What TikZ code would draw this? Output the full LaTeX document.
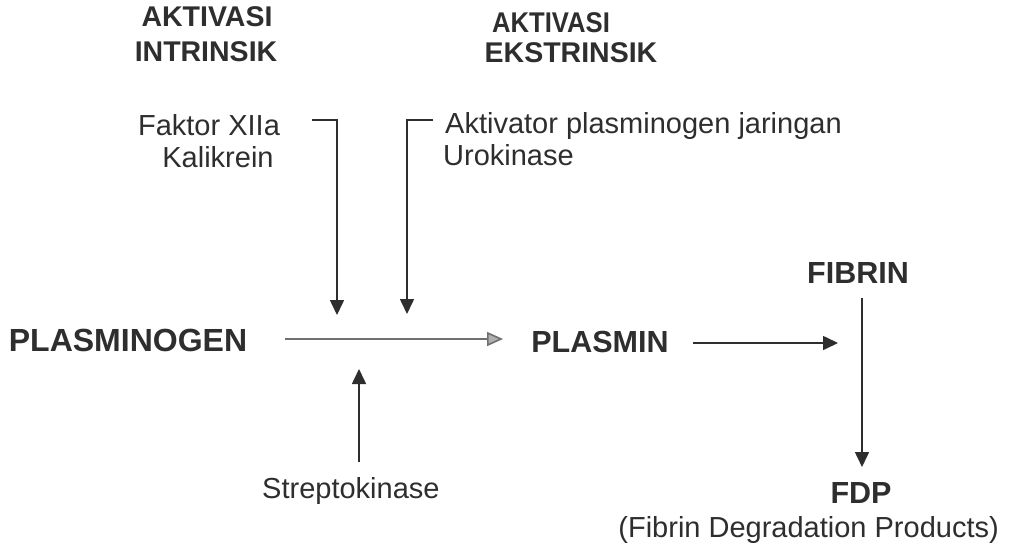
\documentclass[tikz,border=0pt]{standalone}
\usepackage{fontspec}
\setmainfont{Liberation Sans}
\usetikzlibrary{arrows.meta}
\definecolor{ink}{HTML}{2E2E2E}
\definecolor{inklight}{HTML}{707070}
\begin{document}
\begin{tikzpicture}[x=1pt,y=-1pt,
  head/.style={font=\fontsize{28.5}{32}\selectfont\bfseries, text=ink, inner sep=0pt, anchor=base},
  big/.style={font=\fontsize{30.5}{35}\selectfont\bfseries, text=ink, inner sep=0pt, anchor=base},
  lab/.style={font=\fontsize{29}{32}\selectfont, text=ink, inner sep=0pt, anchor=base},
  link/.style={draw=ink, line width=1.6pt},
  arr/.style={link, -{Triangle[length=15pt,width=14pt]}},
  arrlight/.style={draw=inklight, line width=1.6pt, -{Triangle[length=16pt,width=14pt,fill=inklight!55]}}]
\useasboundingbox (0,0) rectangle (1014,551);
\fill[white] (0,0) rectangle (1014,551);

% column headings
\node[head] (hin1) at (207,27) {AKTIVASI};
\node[head] (hin2) at (206,62) {INTRINSIK};
\node[head] (hex1) at (551,33) {\scalebox{0.9}[1]{AKTIVASI}};
\node[head] (hex2) at (571,63) {EKSTRINSIK};

% activators
\node[lab] (faktor) at (209,135) {Faktor XIIa};
\node[lab] (kali) at (218,167) {Kalikrein};
\node[lab, anchor=base west] (tpa) at (445,133) {Aktivator plasminogen jaringan};
\node[lab, anchor=base west] (uro) at (443,165) {Urokinase};
\node[lab, anchor=base west] (strep) at (262,498) {Streptokinase};

% main chain
\node[big, font=\fontsize{32}{36}\selectfont\bfseries] (plg) at (128,351) {PLASMINOGEN};
\node[big] (pls) at (600,352) {PLASMIN};
\node[big] (fib) at (858,283) {FIBRIN};
\node[big] (fdp) at (861,503) {FDP};
\node[lab, anchor=base east] (fdpfull) at (999,537) {(Fibrin Degradation Products)};

% bracket arrows from the two activation pathways
\coordinate (inA) at (312,120);
\coordinate (inB) at (337,120);
\coordinate (inC) at (337,315);
\coordinate (exA) at (433,120);
\coordinate (exB) at (407,120);
\coordinate (exC) at (407,314);
\draw[arr] (inA) -- (inB) -- (inC);
\draw[arr] (exA) -- (exB) -- (exC);

% conversion of plasminogen
\coordinate (convS) at (285,339);
\coordinate (convE) at (503,339);
\draw[arrlight] (convS) -- (convE);
\coordinate (stUp) at (359,462);
\coordinate (stTip) at (359,369);
\draw[arr] (stUp) -- (stTip);

% plasmin acts on fibrin
\coordinate (plS) at (693,343);
\coordinate (plE) at (838,343);
\draw[arr] (plS) -- (plE);
\coordinate (fibS) at (862,298);
\coordinate (fibE) at (862,467);
\draw[arr] (fibS) -- (fibE);
\end{tikzpicture}
\end{document}
